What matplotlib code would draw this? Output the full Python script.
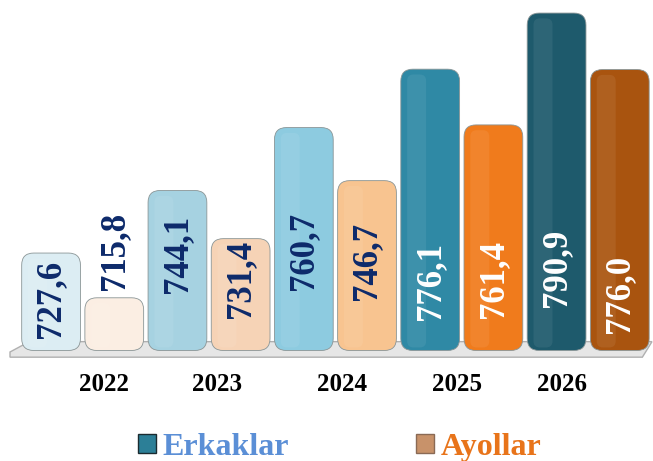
# Average wage by gender, forecast years 2022 - 2026
# Bars are drawn side by side: men (Erkaklar) then women (Ayollar) for each year

years = ['2022', '2023', '2024', '2025', '2026']

# values per year, men and women
values = {
    'Erkaklar': [727.6, 744.1, 760.7, 776.1, 790.9],
    'Ayollar':  [715.8, 731.4, 746.7, 761.4, 776.0],
    }

# each bar has its own shade, getting darker toward later years
colors = {
    'Erkaklar': ['#dcedf3', '#a6d2e1', '#8dcbe0', '#2f89a5', '#1e5a6c'],
    'Ayollar':  ['#fbeee3', '#f6d3b6', '#f8c490', '#f07b1c', '#a9540f'],
    }

# label colour: dark navy on light bars, white on dark ones
label_colors = ['#0d2a6b', '#0d2a6b', '#0d2a6b', 'white', 'white']

# where the (rotated) value label starts, in data units
label_base = {
    'Erkaklar': [705.2, 717.1, 717.9, 709.9, 713.4],
    'Ayollar':  [717.9, 710.5, 715.2, 710.5, 706.5],
    }

# year labels are not exactly centred under the pairs in the original
year_pos = [0.84, 2.63, 4.6, 6.42, 8.08]

# y axis range (the chart does not start at zero)
ymin, ymax = 701.5, 792.5

# bar width and rounding of the corners
bar_width = 0.93
round_x = 0.19


#----- code below produces the actual graph, using matplotlib.pyplot -----

import matplotlib.pyplot as plt
from matplotlib.patches import FancyBboxPatch, Patch, Polygon

plt.rcParams['font.family'] = 'Liberation Serif'
plt.rcParams['font.weight'] = 'bold'

fig = plt.figure(figsize=(6.53, 4.61), dpi=100)
ax = fig.add_axes([10/653, 1 - 352/461, 642/653, 345/461])

ax.set_xlim(-0.65, 9.51)
ax.set_ylim(ymin, ymax)

# rounding must look the same in x and y, so correct for the axis aspect
px_x = 642 / (9.51 + 0.65)
px_y = 345 / (ymax - ymin)
aspect = px_x / px_y

# floor under the bars
floor = Polygon([(0.0, 0.0), (0.03, 0.03), (1.0, 0.03), (0.985, -0.015), (0.0, -0.015)],
                closed=True, transform=ax.transAxes, clip_on=False,
                facecolor='#e6e6e6', edgecolor='#b0b0b0', linewidth=1, zorder=1)
ax.add_patch(floor)

for iy, year in enumerate(years):
    for ig, gender in enumerate(['Erkaklar', 'Ayollar']):
        pos = 2 * iy + ig
        val = values[gender][iy]
        left = pos - bar_width / 2
        bar = FancyBboxPatch((left, ymin + 0.4), bar_width, val - ymin - 0.4,
                             boxstyle='round,pad=0,rounding_size={}'.format(round_x),
                             mutation_aspect=aspect,
                             facecolor=colors[gender][iy],
                             edgecolor='#8a9596', linewidth=0.6, zorder=2)
        ax.add_patch(bar)
        # soft highlight on the left side of the bar
        hl = FancyBboxPatch((left + 0.1, ymin + 1.2), 0.3, val - ymin - 2.6,
                            boxstyle='round,pad=0,rounding_size=0.1',
                            mutation_aspect=aspect,
                            facecolor='white', alpha=0.07, linewidth=0, zorder=3)
        ax.add_patch(hl)
        ax.text(pos, label_base[gender][iy], '{:.1f}'.format(val).replace('.', ','),
                rotation=90, ha='center', va='bottom', fontsize=25,
                fontweight='bold', color=label_colors[iy], zorder=4)

# year labels under each pair of bars
ax.set_xticks(year_pos)
ax.set_xticklabels(years, fontsize=18, fontweight='bold')
ax.tick_params(axis='x', length=0, pad=15)
ax.set_yticks([])
for side in ax.spines.values():
    side.set_visible(False)

# legend at the bottom
handles = [Patch(facecolor='#2c7f97', edgecolor='#1b2b30', label='Erkaklar'),
           Patch(facecolor='#c8926a', edgecolor='#8a6a55', label='Ayollar')]
leg = fig.legend(handles=handles, loc='center', bbox_to_anchor=(0.52, 1 - 447/461),
                 ncol=2, frameon=False, fontsize=23, handlelength=0.55,
                 handleheight=0.55, handletextpad=0.2, columnspacing=4.0)
for txt, col in zip(leg.get_texts(), ['#5b8fd6', '#e8741a']):
    txt.set_color(col)
    txt.set_fontweight('bold')

fig.savefig('out.png', dpi=100)
